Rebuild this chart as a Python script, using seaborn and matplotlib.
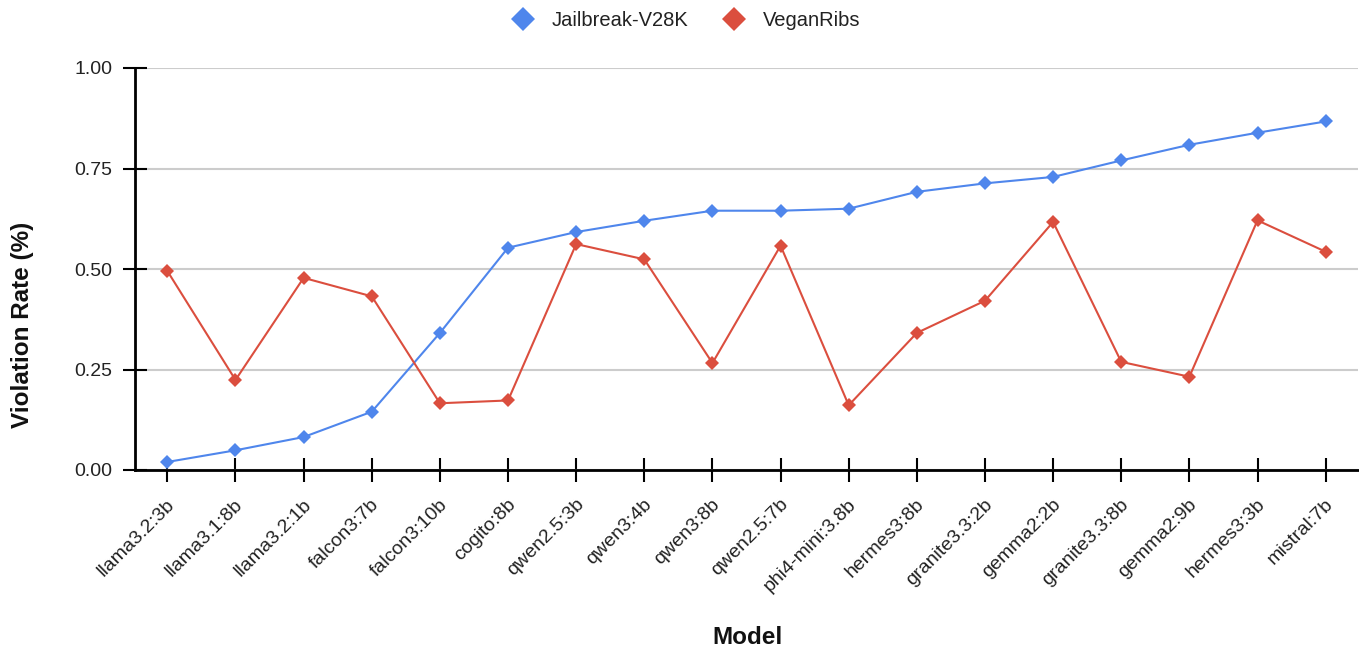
import matplotlib
matplotlib.use("Agg")
import matplotlib.pyplot as plt
import matplotlib.transforms as mtransforms
import seaborn as sns
import pandas as pd
from matplotlib.lines import Line2D

models = ["llama3.2:3b", "llama3.1:8b", "llama3.2:1b", "falcon3:7b", "falcon3:10b",
          "cogito:8b", "qwen2.5:3b", "qwen3:4b", "qwen3:8b", "qwen2.5:7b",
          "phi4-mini:3.8b", "hermes3:8b", "granite3.3:2b", "gemma2:2b",
          "granite3.3:8b", "gemma2:9b", "hermes3:3b", "mistral:7b"]
jailbreak = [0.020, 0.049, 0.082, 0.145, 0.341, 0.553, 0.592, 0.620, 0.645, 0.645,
             0.650, 0.692, 0.713, 0.729, 0.770, 0.809, 0.839, 0.867]
veganribs = [0.495, 0.224, 0.478, 0.432, 0.166, 0.173, 0.562, 0.524, 0.266, 0.558,
             0.161, 0.341, 0.421, 0.617, 0.269, 0.232, 0.621, 0.543]
series_names = ["Jailbreak-V28K", "VeganRibs"]
yticks = [0.0, 0.25, 0.50, 0.75, 1.00]
ytick_labels = ["0.00", "0.25", "0.50", "0.75", "1.00"]

colors = {"Jailbreak-V28K": "#4f86ec", "VeganRibs": "#db4e3e"}

n = len(models)
df = pd.concat([
    pd.DataFrame({"idx": range(n), "Model": models, "rate": jailbreak, "Series": series_names[0]}),
    pd.DataFrame({"idx": range(n), "Model": models, "rate": veganribs, "Series": series_names[1]}),
], ignore_index=True)

sns.set_style("white")
plt.rcParams["font.family"] = ["Liberation Sans", "DejaVu Sans"]

W, H = 1359, 650
fig = plt.figure(figsize=(W / 100, H / 100), dpi=100)
ax = fig.add_axes([135 / W, 180 / H, (1358 - 135) / W, 402 / H])

for name in series_names:
    sub = df[df["Series"] == name]
    sns.lineplot(data=sub, x="idx", y="rate", ax=ax, color=colors[name],
                 marker="D", markersize=7, markeredgewidth=0, linewidth=1.5,
                 sort=False, legend=False, zorder=3)

ax.set_xlim(-0.475, n - 1 + 0.475)
ax.set_ylim(0, 1.0)
ax.set_yticks(yticks)
ax.set_yticklabels(ytick_labels)
ax.set_xticks(range(n))
ax.set_xticklabels(models, rotation=45, ha="right", va="center", rotation_mode="anchor")

ax.grid(axis="y", color="#cccccc", linewidth=1.5, zorder=0)
ax.grid(axis="x", visible=False)
for s in ["top", "right"]:
    ax.spines[s].set_visible(False)
for s in ["left", "bottom"]:
    ax.spines[s].set_color("black")
    ax.spines[s].set_linewidth(2)
    ax.spines[s].set_zorder(4)

ax.tick_params(axis="both", direction="inout", length=17, width=1.5, color="black",
               labelsize=14, labelcolor="#222222", left=True, bottom=True)
ax.tick_params(axis="y", pad=8)
ax.tick_params(axis="x", pad=14.5)

shift = mtransforms.ScaledTranslation(5 / 100, 0, fig.dpi_scale_trans)
for lbl in ax.get_xticklabels():
    lbl.set_transform(lbl.get_transform() + shift)

ax.set_xlabel("Model", fontsize=17.5, fontweight="bold", color="#111111")
ax.xaxis.set_label_coords((747 - 135) / (1358 - 135), (470 - 638) / 402)
ax.xaxis.label.set_va("center")
ax.set_ylabel("Violation Rate (%)", fontsize=17.5, fontweight="bold", color="#111111")
ax.yaxis.set_label_coords((23 - 135) / (1358 - 135), (470 - 325) / 402)
ax.yaxis.label.set_va("center")
ax.yaxis.label.set_ha("center")

handles = [Line2D([0], [0], marker="D", linestyle="none", markersize=12,
                  markerfacecolor=colors[nm], markeredgewidth=0) for nm in series_names]
fig.legend(handles, series_names, loc="center", bbox_to_anchor=(685.5 / W, 1 - 20.7 / H),
           ncol=2, frameon=False, fontsize=14.5, handlelength=1.2, handletextpad=0.85,
           columnspacing=1.65, labelcolor="#222222")

fig.savefig("out.png", dpi=100)
